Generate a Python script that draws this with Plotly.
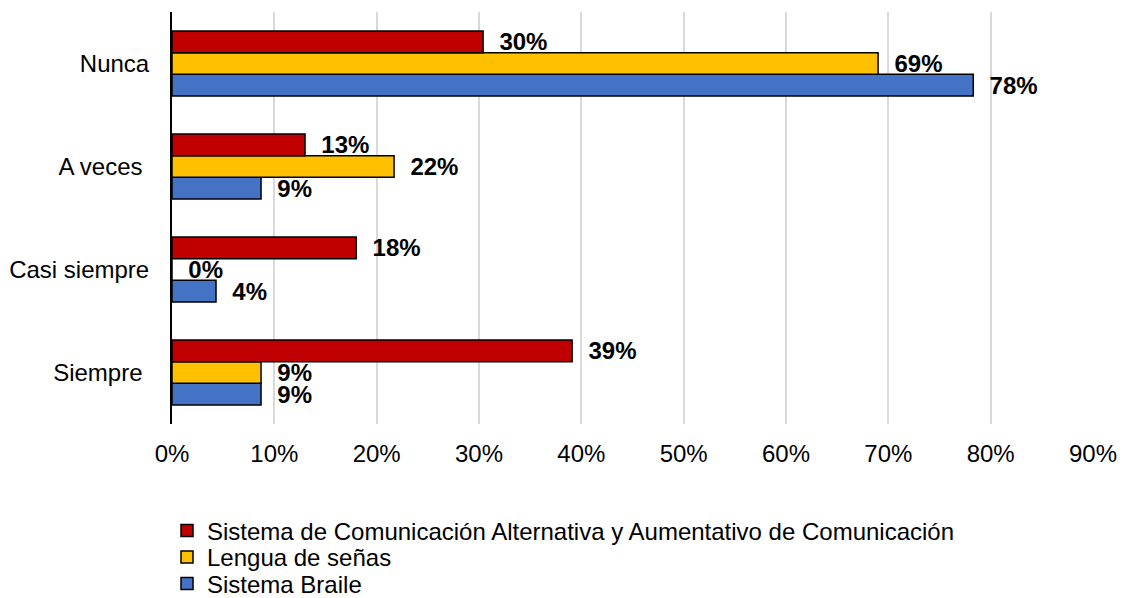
import plotly.graph_objects as go

# categories, bottom to top so "Nunca" ends up at the top
categories = ["Siempre ", "Casi siempre", "A veces ", "Nunca"]

# series values (shares)
braile = [0.087, 0.043, 0.087, 0.783]
senas = [0.087, 0.0, 0.217, 0.69]
saac = [0.391, 0.18, 0.13, 0.304]

series_names = [
    "Sistema Braile",
    "Lengua de señas",
    "Sistema de Comunicación Alternativa y Aumentativo de Comunicación",
]
series_colors = ["#4472C4", "#FFC000", "#C00000"]
legend_ids = ["legend3", "legend2", "legend"]

x_ticks = [0, 0.1, 0.2, 0.3, 0.4, 0.5, 0.6, 0.7, 0.8, 0.9]
x_ticktext = ["0%", "10%", "20%", "30%", "40%", "50%", "60%", "70%", "80%", "90%"]

FONT = "Arial, Liberation Sans, sans-serif"
FS = 24

fig = go.Figure()

# blue first -> bottom of each group, red last -> top
for name, vals, color, leg in zip(series_names, [braile, senas, saac], series_colors, legend_ids):
    fig.add_trace(go.Bar(
        y=categories,
        x=vals,
        name=name,
        orientation="h",
        legend=leg,
        marker=dict(color=color, line=dict(color="black", width=1.5)),
        texttemplate="\u00a0\u00a0%{x:.0%}",
        textposition="outside",
        textfont=dict(family=FONT, size=FS, color="black", weight="bold"),
        constraintext="none",
        cliponaxis=False,
    ))


def legend_box(y_px):
    # one legend per row so the rows sit where the reference has them
    return dict(
        xref="container", yref="container",
        x=167 / 1124, xanchor="left",
        y=1 - y_px / 598, yanchor="middle",
        font=dict(family=FONT, size=FS, color="black"),
        bgcolor="rgba(0,0,0,0)",
        borderwidth=0,
    )


fig.update_layout(
    barmode="group",
    bargap=0.37,
    bargroupgap=0,
    width=1124,
    height=598,
    plot_bgcolor="white",
    paper_bgcolor="white",
    font=dict(family=FONT, size=FS, color="black"),
    margin=dict(l=172, r=31, t=12, b=174, autoexpand=False),
    showlegend=True,
    legend=legend_box(531),
    legend2=legend_box(557.5),
    legend3=legend_box(584),
    xaxis=dict(
        range=[0, 0.9],
        tickvals=x_ticks,
        ticktext=x_ticktext,
        showgrid=True,
        gridcolor="#D9D9D9",
        gridwidth=2,
        zeroline=False,
        showline=False,
        ticks="outside",
        ticklen=8,
        tickcolor="rgba(0,0,0,0)",
        tickangle=0,
        tickfont=dict(family=FONT, size=FS, color="black"),
    ),
    yaxis=dict(
        categoryorder="array",
        categoryarray=categories,
        tickvals=categories,
        ticktext=[c.rstrip() + ("\u00a0" if c.endswith(" ") else "") for c in categories],
        showgrid=False,
        showline=True,
        linecolor="black",
        linewidth=2,
        ticks="outside",
        ticklen=16,
        tickcolor="rgba(0,0,0,0)",
        tickfont=dict(family=FONT, size=FS, color="black"),
    ),
)

fig.write_html(
    "out.html",
    config={"displayModeBar": False},
    post_script="document.body.style.margin='0';",
)
